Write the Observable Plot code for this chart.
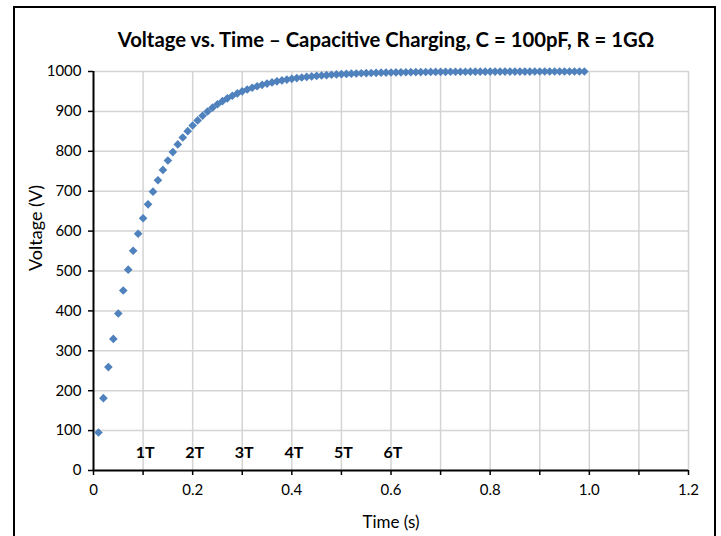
<!DOCTYPE html>
<html>
<head>
<meta charset="utf-8">
<script src="https://cdn.jsdelivr.net/npm/d3@7"></script>
<script src="https://cdn.jsdelivr.net/npm/@observablehq/plot@0.6"></script>
<style>
  html, body { margin: 0; padding: 0; background: #fff; overflow: hidden; }
  #wrap { position: relative; width: 721px; height: 536px; }
  #frame { position: absolute; left: 13px; top: 6px; width: 703px; height: 600px;
           border: 2px solid #000; box-sizing: border-box; pointer-events: none; }
  #chart { position: absolute; left: 0; top: 0; }
</style>
</head>
<body>
<div id="wrap"><div id="chart"></div><div id="frame"></div></div>
<script>
const title = "Voltage vs. Time – Capacitive Charging, C = 100pF, R = 1GΩ";
const xLabel = "Time (s)";
const yLabel = "Voltage (V)";

const time = [0.01,0.02,0.03,0.04,0.05,0.06,0.07,0.08,0.09,0.10,
  0.11,0.12,0.13,0.14,0.15,0.16,0.17,0.18,0.19,0.20,
  0.21,0.22,0.23,0.24,0.25,0.26,0.27,0.28,0.29,0.30,
  0.31,0.32,0.33,0.34,0.35,0.36,0.37,0.38,0.39,0.40,
  0.41,0.42,0.43,0.44,0.45,0.46,0.47,0.48,0.49,0.50,
  0.51,0.52,0.53,0.54,0.55,0.56,0.57,0.58,0.59,0.60,
  0.61,0.62,0.63,0.64,0.65,0.66,0.67,0.68,0.69,0.70,
  0.71,0.72,0.73,0.74,0.75,0.76,0.77,0.78,0.79,0.80,
  0.81,0.82,0.83,0.84,0.85,0.86,0.87,0.88,0.89,0.90,
  0.91,0.92,0.93,0.94,0.95,0.96,0.97,0.98,0.99];
const voltage = [95.2,181.3,259.2,329.7,393.5,451.2,503.4,550.7,593.4,632.1,
  667.1,698.8,727.5,753.4,776.9,798.1,817.3,834.7,850.4,864.7,
  877.5,889.2,899.7,909.3,917.9,925.7,932.8,939.2,945.0,950.2,
  955.0,959.2,963.1,966.6,969.8,972.7,975.3,977.6,979.8,981.7,
  983.4,985.0,986.4,987.7,988.9,989.9,990.9,991.8,992.6,993.3,
  993.9,994.5,995.0,995.5,995.9,996.3,996.7,997.0,997.3,997.5,
  997.8,998.0,998.2,998.3,998.5,998.6,998.8,998.9,999.0,999.1,
  999.2,999.3,999.3,999.4,999.4,999.5,999.5,999.6,999.6,999.7,
  999.7,999.7,999.8,999.8,999.8,999.8,999.8,999.8,999.9,999.9,
  999.9,999.9,999.9,999.9,999.9,999.9,999.9,999.9,999.9];

const tauLabels = ["1T","2T","3T","4T","5T","6T"];
const tauTimes = [0.1,0.2,0.3,0.4,0.5,0.6];
const tauLabelVoltage = 44;

const xTicks = [0,0.1,0.2,0.3,0.4,0.5,0.6,0.7,0.8,0.9,1.0,1.1,1.2];
const xTickLabels = ["0","","0.2","","0.4","","0.6","","0.8","","1.0","","1.2"];
const yTicks = [0,100,200,300,400,500,600,700,800,900,1000];

const points = time.map((t, i) => ({t, v: voltage[i]}));
const taus = tauLabels.map((l, i) => ({l, t: tauTimes[i], v: tauLabelVoltage}));

const font = "Lato, 'Open Sans', sans-serif";

const chart = Plot.plot({
  width: 721,
  height: 536,
  marginLeft: 93,
  marginRight: 33,
  marginTop: 71,
  marginBottom: 66,
  style: { fontFamily: font, fontSize: "15px", color: "#000", background: "transparent" },
  x: { domain: [0, 1.2] },
  y: { domain: [0, 1000] },
  marks: [
    Plot.gridX(xTicks.filter(d => d > 0), { stroke: "#d4d4d4", strokeOpacity: 1, strokeWidth: 1.5 }),
    Plot.gridY(yTicks.filter(d => d > 0), { stroke: "#d4d4d4", strokeOpacity: 1, strokeWidth: 1.5 }),
    Plot.axisX({ ticks: xTicks, tickFormat: d => xTickLabels[xTicks.indexOf(d)], tickSize: 5,
      tickPadding: 9, stroke: "#000", strokeWidth: 1.5, fontSize: 15, label: null }),
    Plot.axisY({ ticks: yTicks, tickFormat: d => String(d), tickSize: 5, tickPadding: 7,
      stroke: "#000", strokeWidth: 1.5, fontSize: 15, label: null }),
    Plot.ruleX([0], { stroke: "#000", strokeWidth: 2 }),
    Plot.ruleY([0], { stroke: "#000", strokeWidth: 2 }),
    Plot.dot(points, { x: "t", y: "v", symbol: "diamond2", r: 3.9, fill: "#4F81BD", stroke: "none" }),
    Plot.text(taus, { x: "t", y: "v", text: "l", fontWeight: "bold", fontSize: 16, fill: "#000", dx: 2 }),
    Plot.text([xLabel], { frameAnchor: "bottom", dy: 52, fontSize: 17, fill: "#000", lineAnchor: "middle" }),
    Plot.text([yLabel], { frameAnchor: "left", dx: -57, rotate: -90, fontSize: 18, fill: "#000", lineAnchor: "middle" }),
    Plot.text([title], { frameAnchor: "top", dy: -31, fontWeight: "bold", fontSize: 20.3, fill: "#000", lineAnchor: "middle", dx: -5 })
  ]
});
document.getElementById("chart").appendChild(chart);
</script>
</body>
</html>
